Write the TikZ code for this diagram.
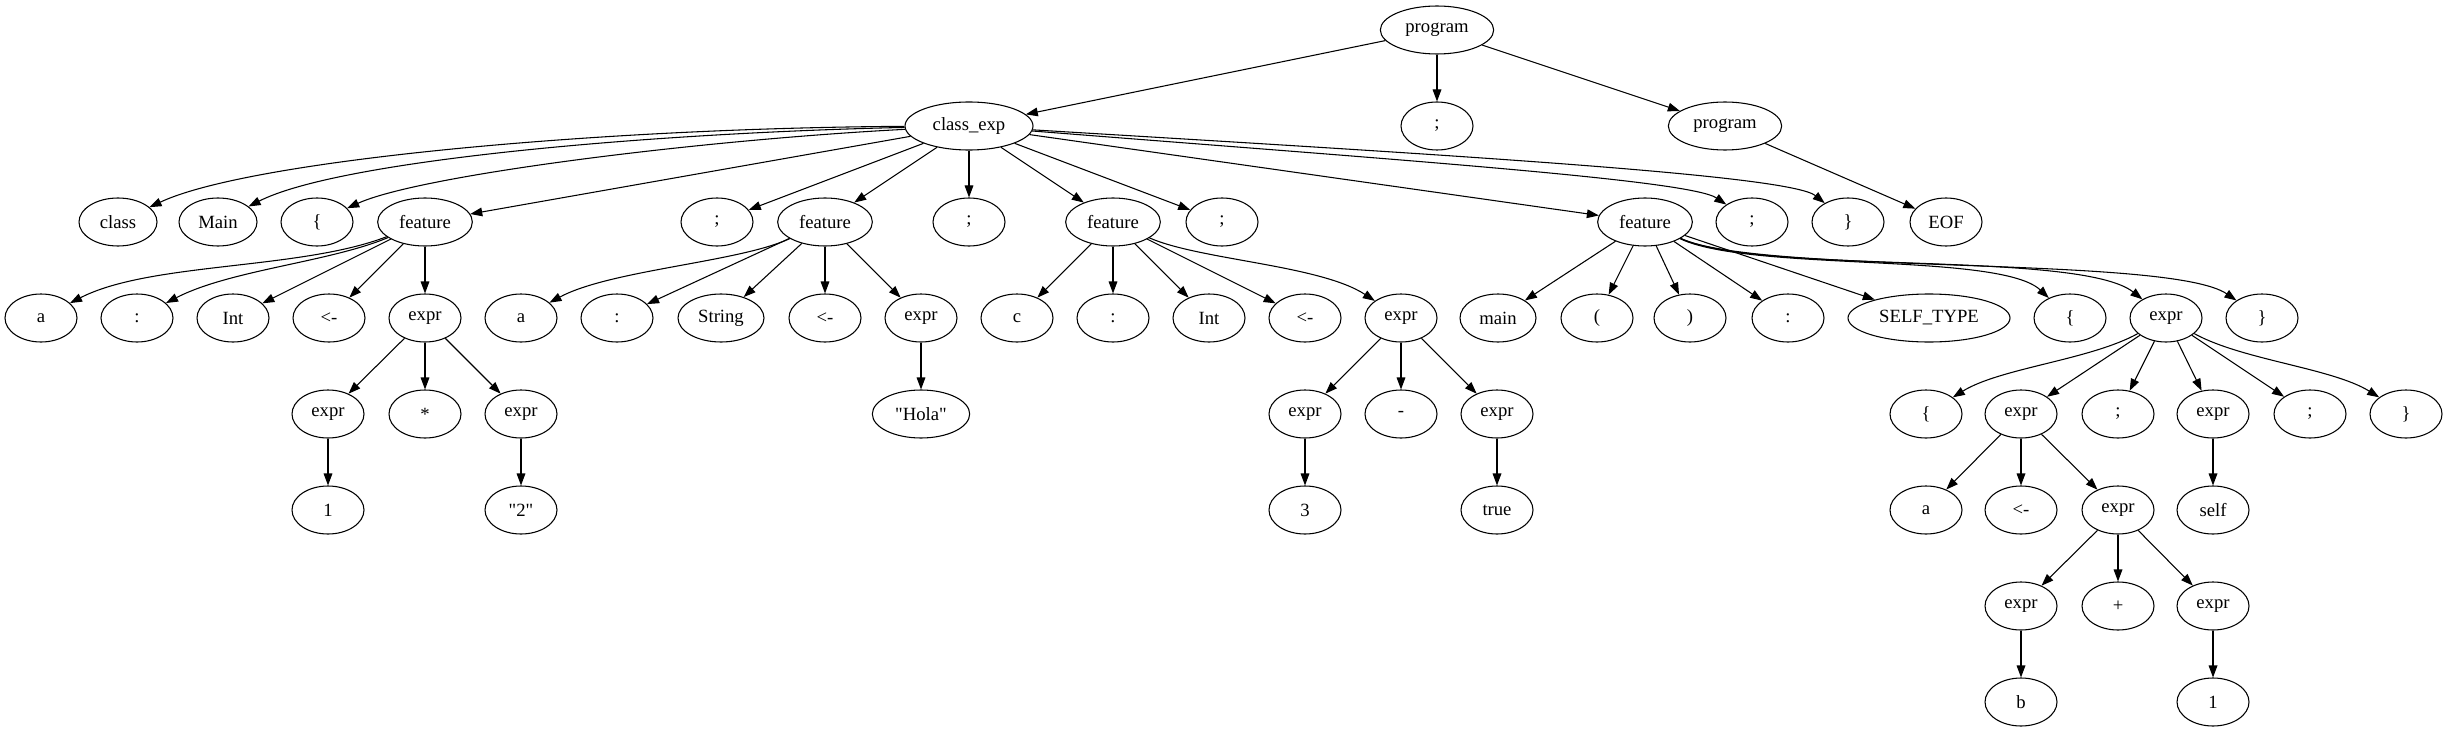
\documentclass[tikz,border=0pt]{standalone}
\usepackage{fontspec}
\setmainfont{Liberation Serif}[Ligatures=TeXOff]
\usetikzlibrary{shapes.geometric,arrows.meta}
\begin{document}
\begin{tikzpicture}[x=0.75pt,y=-0.75pt,
  nd/.style={draw,ellipse,line width=0.8pt,minimum width=54pt,minimum height=36pt,inner sep=0pt,font=\fontsize{14}{16}\selectfont},
  edge/.style={draw,line width=0.8pt,-{Triangle[length=9pt,width=6.5pt]}}]
\useasboundingbox (0,0) rectangle (2448,731);
% row 0
\node[nd,minimum width=85pt] (p0) at (1437,30) {program};
% row 1
\node[nd,minimum width=96pt] (ce) at (969,126) {class\_exp};
\node[nd] (s0) at (1437,126) {;};
\node[nd,minimum width=85pt] (p1) at (1725,126) {program};
% row 2
\node[nd,minimum width=58.5pt] (cls) at (118,222) {class};
\node[nd,minimum width=58.5pt] (mn) at (218,222) {Main};
\node[nd] (lb1) at (317,222) {\{};
\node[nd,minimum width=71pt] (f1) at (425,222) {feature};
\node[nd] (s1) at (717,222) {;};
\node[nd,minimum width=71pt] (f2) at (825,222) {feature};
\node[nd] (s2) at (969,222) {;};
\node[nd,minimum width=71pt] (f3) at (1113,222) {feature};
\node[nd] (s3) at (1222,222) {;};
\node[nd,minimum width=71pt] (f4) at (1645,222) {feature};
\node[nd] (s4) at (1752,222) {;};
\node[nd] (rb1) at (1848,222) {\}};
\node[nd] (eof) at (1946,222) {EOF};
% row 3
\node[nd] (a1) at (41,318) {a};
\node[nd] (c1) at (137,318) {:};
\node[nd] (i1) at (233,318) {Int};
\node[nd] (as1) at (329,318) {<-};
\node[nd] (e1) at (425,318) {expr};
\node[nd] (a2) at (521,318) {a};
\node[nd] (c2) at (617,318) {:};
\node[nd,minimum width=64.5pt] (str) at (721,318) {String};
\node[nd] (as2) at (825,318) {<-};
\node[nd] (e2) at (921,318) {expr};
\node[nd] (cc) at (1017,318) {c};
\node[nd] (c3) at (1113,318) {:};
\node[nd] (i3) at (1209,318) {Int};
\node[nd] (as3) at (1305,318) {<-};
\node[nd] (e3) at (1401,318) {expr};
\node[nd,minimum width=57pt] (mainn) at (1498,318) {main};
\node[nd] (lp) at (1597,318) {(};
\node[nd] (rp) at (1690,318) {)};
\node[nd] (c4) at (1788,318) {:};
\node[nd,minimum width=121.5pt] (st) at (1929,318) {SELF\_TYPE};
\node[nd] (lb2) at (2070,318) {\{};
\node[nd] (e4) at (2166,318) {expr};
\node[nd] (rb2) at (2262,318) {\}};
% row 4
\node[nd] (e11) at (328,414) {expr};
\node[nd] (mul) at (425,414) {*};
\node[nd] (e12) at (521,414) {expr};
\node[nd,minimum width=73pt] (hola) at (921,414) {"Hola"};
\node[nd] (e31) at (1305,414) {expr};
\node[nd] (minus) at (1401,414) {-};
\node[nd] (e32) at (1497,414) {expr};
\node[nd] (lb3) at (1926,414) {\{};
\node[nd] (e41) at (2021,414) {expr};
\node[nd] (s5) at (2118,414) {;};
\node[nd] (e42) at (2213,414) {expr};
\node[nd] (s6) at (2310,414) {;};
\node[nd] (rb3) at (2406,414) {\}};
% row 5
\node[nd] (n1) at (328,510) {1};
\node[nd] (n2) at (521,510) {"2"};
\node[nd] (n3) at (1305,510) {3};
\node[nd] (tr) at (1497,510) {true};
\node[nd] (a3) at (1926,510) {a};
\node[nd] (as4) at (2021,510) {<-};
\node[nd] (e43) at (2118,510) {expr};
\node[nd] (slf) at (2213,510) {self};
% row 6
\node[nd] (e44) at (2021,606) {expr};
\node[nd] (plus) at (2118,606) {+};
\node[nd] (e45) at (2213,606) {expr};
% row 7
\node[nd] (bb) at (2021,702) {b};
\node[nd] (n4) at (2213,702) {1};
% edges
\draw[edge] (p0) -- (ce);
\draw[edge] (p0) -- (s0);
\draw[edge] (p0) -- (p1);
\draw[edge] (p1) -- (eof);
\draw[edge] (ce) .. controls (600,128) and (250,160) .. (cls);
\draw[edge] (ce) .. controls (650,133) and (340,160) .. (mn);
\draw[edge] (ce) .. controls (700,140) and (420,175) .. (lb1);
\draw[edge] (ce) -- (f1);
\draw[edge] (ce) -- (s1);
\draw[edge] (ce) -- (f2);
\draw[edge] (ce) -- (s2);
\draw[edge] (ce) -- (f3);
\draw[edge] (ce) -- (s3);
\draw[edge] (ce) -- (f4);
\draw[edge] (ce) .. controls (1400,160) and (1690,180) .. (s4);
\draw[edge] (ce) .. controls (1450,155) and (1790,175) .. (rb1);
% feature 1
\draw[edge] (f1) .. controls (300,270) and (150,262) .. (a1);
\draw[edge] (f1) .. controls (330,262) and (230,270) .. (c1);
\draw[edge] (f1) -- (i1);
\draw[edge] (f1) -- (as1);
\draw[edge] (f1) -- (e1);
\draw[edge] (e1) -- (e11);
\draw[edge] (e1) -- (mul);
\draw[edge] (e1) -- (e12);
\draw[edge] (e11) -- (n1);
\draw[edge] (e12) -- (n2);
% feature 2
\draw[edge] (f2) .. controls (740,262) and (610,270) .. (a2);
\draw[edge] (f2) -- (c2);
\draw[edge] (f2) -- (str);
\draw[edge] (f2) -- (as2);
\draw[edge] (f2) -- (e2);
\draw[edge] (e2) -- (hola);
% feature 3
\draw[edge] (f3) -- (cc);
\draw[edge] (f3) -- (c3);
\draw[edge] (f3) -- (i3);
\draw[edge] (f3) -- (as3);
\draw[edge] (f3) .. controls (1200,260) and (1320,265) .. (e3);
\draw[edge] (e3) -- (e31);
\draw[edge] (e3) -- (minus);
\draw[edge] (e3) -- (e32);
\draw[edge] (e31) -- (n3);
\draw[edge] (e32) -- (tr);
% feature 4
\draw[edge] (f4) -- (mainn);
\draw[edge] (f4) -- (lp);
\draw[edge] (f4) -- (rp);
\draw[edge] (f4) -- (c4);
\draw[edge] (f4) -- (st);
\draw[edge] (f4) .. controls (1750,272) and (2000,252) .. (lb2);
\draw[edge] (f4) .. controls (1760,275) and (2080,250) .. (e4);
\draw[edge] (f4) .. controls (1760,275) and (2170,255) .. (rb2);
\draw[edge] (e4) .. controls (2090,360) and (2000,368) .. (lb3);
\draw[edge] (e4) -- (e41);
\draw[edge] (e4) -- (s5);
\draw[edge] (e4) -- (e42);
\draw[edge] (e4) -- (s6);
\draw[edge] (e4) .. controls (2242,360) and (2332,368) .. (rb3);
\draw[edge] (e41) -- (a3);
\draw[edge] (e41) -- (as4);
\draw[edge] (e41) -- (e43);
\draw[edge] (e43) -- (e44);
\draw[edge] (e43) -- (plus);
\draw[edge] (e43) -- (e45);
\draw[edge] (e44) -- (bb);
\draw[edge] (e45) -- (n4);
\draw[edge] (e42) -- (slf);
\end{tikzpicture}
\end{document}
